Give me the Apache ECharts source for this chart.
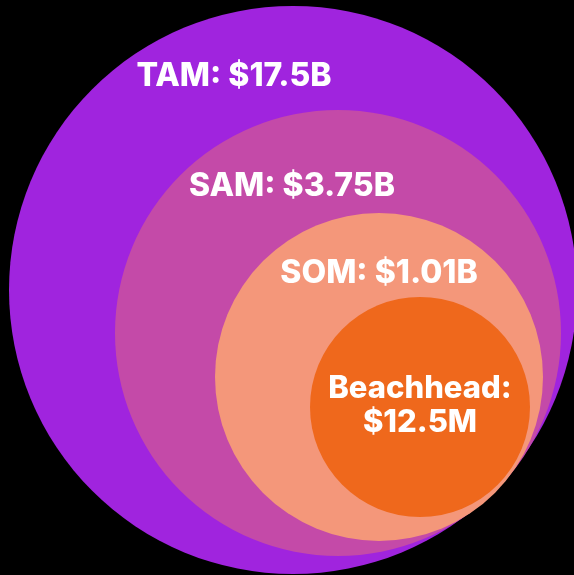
<!DOCTYPE html>
<html>
<head>
<meta charset="utf-8">
<script src="https://cdn.jsdelivr.net/npm/echarts@6/dist/echarts.min.js"></script>
<style>
  html, body { margin: 0; padding: 0; background: #000; }
  #chart { width: 574px; height: 575px; }
</style>
</head>
<body>
<div id="chart"></div>
<script>
  // market sizing (nested circles)
  const names = ['TAM', 'SAM', 'SOM', 'Beachhead'];
  const values = ['$17.5B', '$3.75B', '$1.01B', '$12.5M'];
  // circle centre and radius, in axis units (axes run 0..574 / 0..575)
  const centerX = [293, 338, 379, 420];
  const centerY = [290, 333, 377, 407];
  const radius = [284, 223, 164, 110];

  // label layout
  const labelX = [234, 292, 379, 420];
  const labelY = [76, 186, 273, 406];
  const colors = ['#a024de', '#c44aa8', '#f4977a', '#ef681c'];

  const chart = echarts.init(document.getElementById('chart'));

  chart.setOption({
    backgroundColor: '#000',
    animation: false,
    grid: { left: 0, right: 0, top: 0, bottom: 0 },
    xAxis: { type: 'value', min: 0, max: 574, show: false },
    yAxis: { type: 'value', min: 0, max: 575, inverse: true, show: false },
    series: [{
      type: 'custom',
      coordinateSystem: 'cartesian2d',
      data: names.map((n, i) => [centerX[i], centerY[i], radius[i], labelX[i], labelY[i]]),
      renderItem: function (params, api) {
        const i = params.dataIndex;
        const c = api.coord([api.value(0), api.value(1)]);
        const r = api.size([api.value(2), 0])[0];
        const t = api.coord([api.value(3), api.value(4)]);
        const isLast = i === names.length - 1;
        const text = isLast ? names[i] + ':\n' + values[i] : names[i] + ': ' + values[i];
        return {
          type: 'group',
          children: [{
            type: 'circle',
            shape: { cx: c[0], cy: c[1], r: r },
            style: { fill: colors[i] }
          }, {
            type: 'text',
            z2: 10,
            style: {
              x: t[0],
              y: t[1],
              text: text,
              fill: '#fff',
              font: isLast ? '800 31px Inter, "Noto Sans", sans-serif' : '800 32px Inter, "Noto Sans", sans-serif',
              align: 'center',
              verticalAlign: 'middle',
              lineHeight: 34
            }
          }]
        };
      }
    }]
  });

  window.onresize = function () {
    chart.resize();
  };
</script>
</body>
</html>
